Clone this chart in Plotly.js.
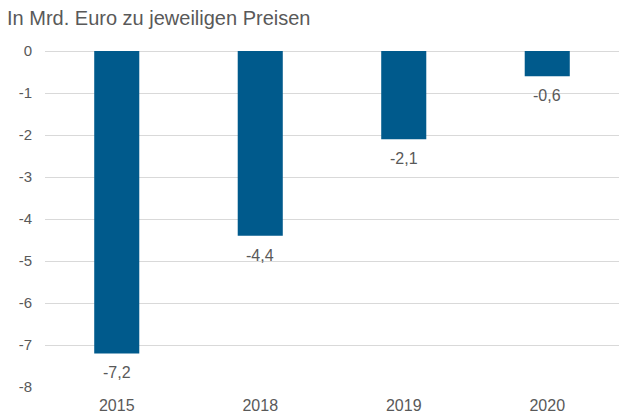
<!DOCTYPE html>
<html>
<head>
<meta charset="utf-8">
<script src="https://cdn.plot.ly/plotly-3.0.1.min.js"></script>
<style>html,body{margin:0;padding:0;background:#fff;}#chart{width:619px;height:417px;}</style>
</head>
<body>
<div id="chart"></div>
<script>
var years = ['2015', '2018', '2019', '2020'];
var values = [-7.2, -4.4, -2.1, -0.6];
var valueLabels = ['-7,2', '-4,4', '-2,1', '-0,6'];
var yTicks = [0, -1, -2, -3, -4, -5, -6, -7, -8];

var trace = {
  type: 'bar',
  x: years,
  y: values,
  marker: {color: '#005a8c', line: {width: 0}},
  hoverinfo: 'none'
};

var annotations = years.map(function (yr, i) {
  return {
    x: i, y: values[i], xref: 'x', yref: 'y',
    text: valueLabels[i],
    showarrow: false,
    xanchor: 'center', yanchor: 'top',
    yshift: -9,
    font: {family: 'Liberation Sans, Arial, sans-serif', size: 16, color: '#595959'}
  };
});

var layout = {
  width: 619,
  height: 417,
  margin: {l: 45, r: 0, t: 51, b: 30},
  paper_bgcolor: '#fff',
  plot_bgcolor: '#fff',
  separators: ',.',
  showlegend: false,
  bargap: 0.686,
  font: {family: 'Liberation Sans, Arial, sans-serif', size: 16, color: '#595959'},
  title: {
    text: 'In Mrd. Euro zu jeweiligen Preisen',
    x: 0, xref: 'container', xanchor: 'left',
    y: 1, yref: 'container', yanchor: 'top',
    pad: {t: 11, l: 7},
    font: {size: 20, color: '#595959'}
  },
  annotations: annotations,
  xaxis: {
    type: 'category',
    categoryorder: 'array',
    categoryarray: years,
    range: [-0.5, years.length - 0.5],
    showgrid: false,
    showline: false,
    zeroline: false,
    ticks: '',
    ticklabelstandoff: 7,
    tickfont: {size: 16, color: '#595959'}
  },
  yaxis: {
    range: [-8, 0],
    tickvals: yTicks,
    ticktext: yTicks.map(String),
    showgrid: true,
    gridcolor: '#d9d9d9',
    gridwidth: 1,
    zeroline: true,
    zerolinecolor: '#d9d9d9',
    zerolinewidth: 1,
    showline: false,
    ticks: '',
    ticklabelstandoff: 12,
    tickfont: {size: 15, color: '#595959'}
  }
};

Plotly.newPlot('chart', [trace], layout, {displayModeBar: false, staticPlot: true});
</script>
</body>
</html>
